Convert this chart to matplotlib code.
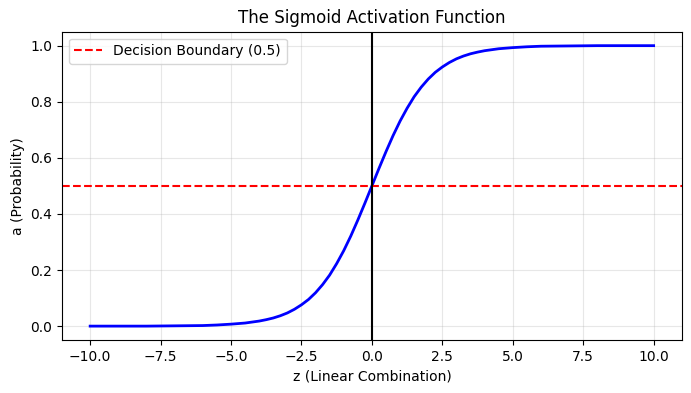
import matplotlib.pyplot as plt

# values
z = [-10, -9, -8, -7, -6, -5.5, -5, -4.5, -4, -3.75, -3.5, -3.25, -3, -2.75, -2.5,
     -2.25, -2, -1.75, -1.5, -1.25, -1, -0.75, -0.5, -0.25, 0, 0.25, 0.5, 0.75, 1,
     1.25, 1.5, 1.75, 2, 2.25, 2.5, 2.75, 3, 3.25, 3.5, 3.75, 4, 4.5, 5, 5.5, 6,
     7, 8, 9, 10]
a = [0.000, 0.000, 0.000, 0.001, 0.002, 0.004, 0.007, 0.011, 0.018, 0.023, 0.029,
     0.037, 0.047, 0.060, 0.076, 0.095, 0.119, 0.148, 0.182, 0.223, 0.269, 0.321,
     0.378, 0.438, 0.500, 0.562, 0.622, 0.679, 0.731, 0.777, 0.818, 0.852, 0.881,
     0.905, 0.924, 0.940, 0.953, 0.963, 0.971, 0.977, 0.982, 0.989, 0.993, 0.996,
     0.998, 0.999, 1.000, 1.000, 1.000]
boundary = 0.5

fig = plt.figure(figsize=(6.91, 3.93), dpi=100)
ax = fig.add_axes([0.0897, 0.1345, 0.897, 0.785])

ax.plot(z, a, color='blue', linewidth=2)
ax.axhline(boundary, color='red', linestyle='--', label='Decision Boundary (0.5)')
ax.axvline(0, color='black')
ax.grid(True, alpha=0.3)
ax.set_title('The Sigmoid Activation Function')
ax.set_xlabel('z (Linear Combination)')
ax.set_ylabel('a (Probability)')
ax.legend(loc='upper left')

fig.savefig('out.png')
